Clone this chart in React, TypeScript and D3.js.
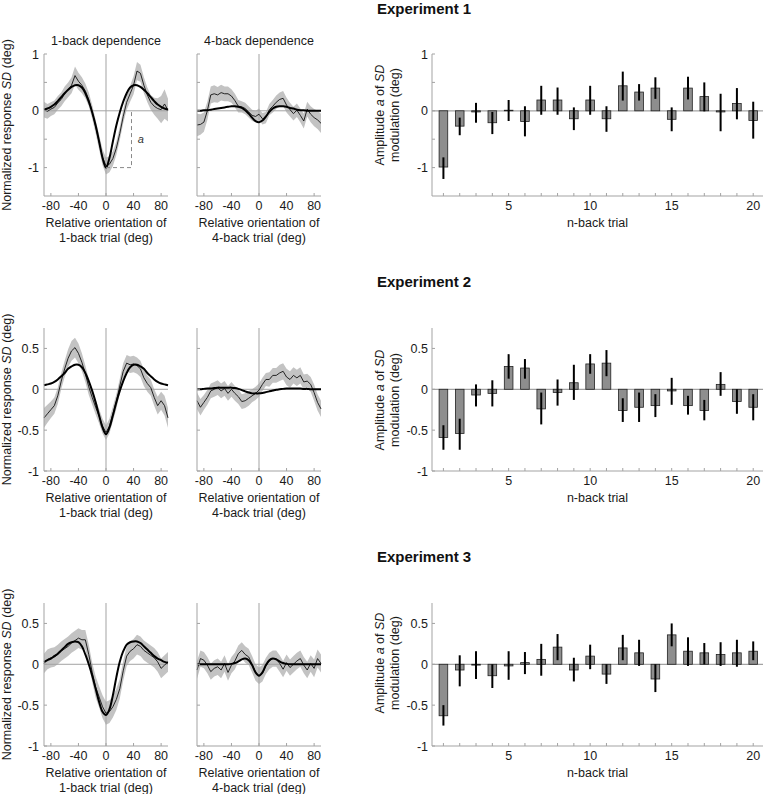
import React from 'react';
import * as d3 from 'd3';

// ---------- data ----------
const ORIENT = [-90,-85,-80,-75,-70,-65,-60,-55,-50,-45,-40,-35,-30,-25,-20,-15,-10,-5,0,5,10,15,20,25,30,35,40,45,50,55,60,65,70,75,80,85,90];

const E1_1B_MEAN = [0.02,-0.01,0.03,0.06,0.14,0.2,0.3,0.37,0.45, 0.62,0.52,0.45,0.35,0.2,-0.02,-0.28,-0.55,-0.82,-0.97, -0.94,-0.84,-0.66,-0.4,-0.1,0.15,0.3,0.45,0.7,0.66, 0.45,0.28,0.15,0.08,0.04,0.02,0.12,0.01];
const E1_1B_SEM = [0.14,0.13,0.12,0.12,0.12,0.12,0.13,0.13,0.14, 0.16,0.15,0.14,0.13,0.12,0.12,0.12,0.13,0.14,0.15, 0.14,0.13,0.12,0.12,0.12,0.13,0.14,0.16,0.16,0.15, 0.14,0.13,0.13,0.15,0.18,0.24,0.26,0.2];
const E1_1B_FIT = [0.02,0.04,0.07,0.11,0.17,0.24,0.31,0.37,0.42, 0.45,0.45,0.41,0.31,0.16,-0.03,-0.26,-0.54,-0.83,-1.0, -0.83,-0.54,-0.26,-0.03,0.16,0.31,0.41,0.45,0.45,0.42, 0.37,0.31,0.24,0.17,0.11,0.07,0.04,0.02];

const E1_4B_MEAN = [-0.25,-0.24,-0.2,0.0,0.28,0.3,0.28,0.32,0.3, 0.3,0.26,0.18,0.08,0.07,0.04,-0.02,-0.08,-0.1,-0.06, -0.14,-0.12,0.02,0.08,0.15,0.2,0.22,0.1,0.02,-0.05, 0.01,-0.08,-0.18,0.03,-0.06,-0.12,-0.16,-0.22];
const E1_4B_SEM = [0.2,0.18,0.17,0.16,0.15,0.15,0.14,0.14,0.13, 0.13,0.12,0.12,0.11,0.1,0.1,0.1,0.1,0.1,0.1, 0.1,0.1,0.1,0.11,0.12,0.12,0.13,0.13,0.12,0.12, 0.12,0.12,0.13,0.13,0.14,0.15,0.16,0.17];
const E1_4B_FIT = [0,0,0.01,0.01,0.02,0.03,0.04,0.05,0.06, 0.07,0.08,0.08,0.07,0.05,0.01,-0.05,-0.12,-0.18,-0.2, -0.17,-0.1,-0.02,0.04,0.07,0.08,0.08,0.07,0.05,0.04, 0.02,0.01,0.01,0,0,0,0,0];

const E2_1B_MEAN = [-0.35,-0.3,-0.25,-0.2,-0.08,0.1,0.25,0.38,0.47, 0.51,0.44,0.33,0.19,0.03,-0.1,-0.22,-0.33,-0.45,-0.53, -0.45,-0.3,-0.15,0.04,0.22,0.32,0.3,0.31,0.29,0.25, 0.14,0.07,0.02,-0.1,-0.2,-0.14,-0.2,-0.35];
const E2_1B_SEM = [0.12,0.11,0.1,0.1,0.1,0.1,0.1,0.11,0.12, 0.12,0.12,0.11,0.1,0.1,0.09,0.09,0.09,0.09,0.09, 0.09,0.09,0.09,0.09,0.1,0.1,0.1,0.1,0.1,0.1, 0.1,0.1,0.1,0.1,0.11,0.11,0.12,0.12];
const E2_1B_FIT = [0.05,0.06,0.07,0.09,0.12,0.16,0.2,0.25,0.28, 0.3,0.3,0.27,0.2,0.1,-0.02,-0.16,-0.32,-0.47,-0.55, -0.47,-0.32,-0.16,-0.02,0.1,0.2,0.27,0.3,0.3,0.28, 0.25,0.2,0.16,0.12,0.09,0.07,0.06,0.05];

const E2_4B_MEAN = [-0.14,-0.22,-0.16,-0.1,-0.02,0.0,0.02,-0.02,0.01, -0.05,0.0,-0.05,-0.09,-0.15,-0.14,-0.11,-0.08,-0.05,-0.01, 0.06,0.12,0.12,0.17,0.17,0.2,0.22,0.15,0.12,0.17, 0.14,0.17,0.09,0.1,0.06,-0.04,-0.16,-0.24];
const E2_4B_SEM = [0.1,0.1,0.09,0.09,0.09,0.09,0.09,0.09,0.09, 0.09,0.09,0.09,0.09,0.09,0.09,0.09,0.08,0.08,0.08, 0.08,0.08,0.09,0.09,0.09,0.1,0.1,0.1,0.1,0.1, 0.1,0.1,0.09,0.09,0.09,0.1,0.1,0.1];
const E2_4B_FIT = [0,0,0.005,0.01,0.01,0.015,0.02,0.02,0.02, 0.02,0.02,0.015,0.005,-0.01,-0.025,-0.04,-0.05,-0.05,-0.05, -0.045,-0.035,-0.025,-0.015,-0.005,0,0.005,0.01,0.01,0.01, 0.01,0.01,0.005,0.005,0,0,0,0];

const E3_1B_MEAN = [0.01,0.06,0.08,0.09,0.12,0.16,0.19,0.22,0.26, 0.29,0.32,0.3,0.3,0.12,-0.1,-0.28,-0.4,-0.52,-0.6, -0.58,-0.52,-0.43,-0.3,-0.08,0.1,0.16,0.19,0.24,0.22, 0.17,0.14,0.11,0.08,0.03,-0.05,-0.01,0.03];
const E3_1B_SEM = [0.12,0.12,0.12,0.12,0.12,0.12,0.12,0.12,0.12, 0.12,0.12,0.12,0.12,0.12,0.12,0.13,0.13,0.14,0.14, 0.14,0.13,0.13,0.12,0.12,0.12,0.12,0.12,0.12,0.12, 0.12,0.12,0.12,0.12,0.12,0.12,0.12,0.12];
const E3_1B_FIT = [0.03,0.05,0.07,0.1,0.13,0.17,0.21,0.25,0.27, 0.28,0.27,0.22,0.12,0.0,-0.14,-0.3,-0.46,-0.58,-0.62, -0.55,-0.38,-0.16,0.03,0.16,0.24,0.27,0.28,0.28,0.26, 0.22,0.18,0.14,0.1,0.07,0.05,0.03,0.02];

const E3_4B_MEAN = [-0.07,0.07,0.05,-0.01,-0.09,-0.05,-0.03,-0.07,0.01, -0.1,-0.01,0.04,0.13,0.17,0.12,0.09,0.0,-0.1,-0.14, -0.11,-0.02,0.04,0.07,0.07,0.01,-0.06,0.02,-0.04,0.0, 0.04,0.07,-0.01,-0.07,0.01,-0.05,0.07,0.01];
const E3_4B_SEM = [0.11,0.1,0.1,0.1,0.1,0.1,0.1,0.1,0.1, 0.1,0.1,0.1,0.1,0.1,0.1,0.1,0.1,0.1,0.1, 0.1,0.1,0.1,0.1,0.1,0.1,0.1,0.1,0.1,0.1, 0.1,0.1,0.1,0.1,0.1,0.11,0.11,0.11];
const E3_4B_FIT = [0,0,0,0,0,0,0,0,0, 0,0.005,0.015,0.035,0.06,0.07,0.05,-0.01,-0.1,-0.14, -0.1,-0.01,0.05,0.07,0.06,0.035,0.015,0.005,0,0, 0,0,0,0,0,0,0,0];

const NBACK = [1,2,3,4,5,6,7,8,9,10,11,12,13,14,15,16,17,18,19,20];
const E1_AMP = [-0.99,-0.27,-0.02,-0.21,0.01,-0.19,0.19,0.19,-0.14,0.19,-0.14,0.44,0.33,0.40,-0.15,0.40,0.25,-0.02,0.13,-0.17];
const E1_HI = [-0.82,-0.12,0.14,-0.02,0.19,0.08,0.44,0.41,0.06,0.44,0.08,0.69,0.47,0.59,0.06,0.60,0.50,0.30,0.40,0.16];
const E1_LO = [-1.2,-0.43,-0.21,-0.41,-0.18,-0.45,-0.07,-0.07,-0.34,-0.07,-0.37,0.18,0.18,0.21,-0.36,0.20,-0.01,-0.36,-0.15,-0.49];
const E2_AMP = [-0.59,-0.54,-0.07,-0.05,0.28,0.26,-0.24,-0.04,0.08,0.31,0.32,-0.26,-0.22,-0.20,-0.02,-0.20,-0.26,0.06,-0.15,-0.22];
const E2_HI = [-0.44,-0.36,0.06,0.11,0.43,0.37,-0.04,0.12,0.30,0.43,0.48,-0.11,-0.04,-0.06,0.14,-0.08,-0.13,0.21,0.0,-0.06];
const E2_LO = [-0.74,-0.74,-0.21,-0.21,0.13,0.13,-0.43,-0.20,-0.13,0.19,0.16,-0.40,-0.40,-0.34,-0.19,-0.31,-0.38,-0.08,-0.30,-0.38];
const E3_AMP = [-0.63,-0.07,-0.01,-0.14,-0.02,0.02,0.06,0.21,-0.07,0.10,-0.12,0.20,0.14,-0.18,0.36,0.16,0.14,0.12,0.14,0.16];
const E3_HI = [-0.5,0.11,0.16,0.0,0.16,0.15,0.25,0.37,0.08,0.24,0.0,0.36,0.30,0.0,0.50,0.33,0.26,0.27,0.30,0.28];
const E3_LO = [-0.75,-0.27,-0.18,-0.29,-0.19,-0.12,-0.14,0.05,-0.21,-0.06,-0.24,0.05,-0.02,-0.34,0.22,-0.02,0.0,-0.02,-0.03,0.05];

const X_TICKS = [-80, -40, 0, 40, 80];
const BAR_X_LABELS = [5, 10, 15, 20];
const TITLES = ['Experiment 1', 'Experiment 2', 'Experiment 3'];
const PANEL_TITLES = ['1-back dependence', '4-back dependence'];

// ---------- styling / layout ----------
const FONT = "'Liberation Sans', Arial, Helvetica, sans-serif";
const AX = '#a3a3a3';
const TXT = '#1a1a1a';
const FS = 12.5;
const P1 = [44, 168];
const P2 = [197, 321];
const PB = [432, 763];

type Row = {
  top: number; bot: number; dom: [number, number];
  yTicks: number[]; yLabels: number[];
  title: string; titleY: number; barLabelCy: number;
  p1: { mean: number[]; sem: number[]; fit: number[] };
  p2: { mean: number[]; sem: number[]; fit: number[] };
  bar: { amp: number[]; lo: number[]; hi: number[] };
  showPanelTitles: boolean; annot: boolean;
};

const ROWS: Row[] = [
  { top: 54, bot: 196, dom: [-1.5, 1], yTicks: [1, 0.5, 0, -0.5, -1], yLabels: [1, 0, -1],
    title: TITLES[0], titleY: 14, barLabelCy: 115,
    p1: { mean: E1_1B_MEAN, sem: E1_1B_SEM, fit: E1_1B_FIT },
    p2: { mean: E1_4B_MEAN, sem: E1_4B_SEM, fit: E1_4B_FIT },
    bar: { amp: E1_AMP, lo: E1_LO, hi: E1_HI }, showPanelTitles: true, annot: true },
  { top: 328, bot: 471, dom: [-1, 0.75], yTicks: [0.5, 0, -0.5, -1], yLabels: [0.5, 0, -0.5, -1],
    title: TITLES[1], titleY: 287, barLabelCy: 400,
    p1: { mean: E2_1B_MEAN, sem: E2_1B_SEM, fit: E2_1B_FIT },
    p2: { mean: E2_4B_MEAN, sem: E2_4B_SEM, fit: E2_4B_FIT },
    bar: { amp: E2_AMP, lo: E2_LO, hi: E2_HI }, showPanelTitles: false, annot: false },
  { top: 603, bot: 746, dom: [-1, 0.75], yTicks: [0.5, 0, -0.5, -1], yLabels: [0.5, 0, -0.5, -1],
    title: TITLES[2], titleY: 562, barLabelCy: 663,
    p1: { mean: E3_1B_MEAN, sem: E3_1B_SEM, fit: E3_1B_FIT },
    p2: { mean: E3_4B_MEAN, sem: E3_4B_SEM, fit: E3_4B_FIT },
    bar: { amp: E3_AMP, lo: E3_LO, hi: E3_HI }, showPanelTitles: false, annot: false },
];

function LinePanel({ row, range, data, showYLabels, title, nback, annot }: any) {
  const x = d3.scaleLinear().domain([-90, 90]).range(range);
  const y = d3.scaleLinear().domain(row.dom).range([row.bot, row.top]);
  const { mean, sem, fit } = data;
  const area = d3.area<number>()
    .x((_, i) => x(ORIENT[i]))
    .y0((_, i) => y(mean[i] - sem[i]))
    .y1((_, i) => y(mean[i] + sem[i]));
  const line = d3.line<number>().x((_, i) => x(ORIENT[i])).y((d) => y(d));
  const fitLine = d3.line<number>().x((_, i) => x(ORIENT[i])).y((d) => y(d)).curve(d3.curveCatmullRom.alpha(0.5));
  const cx = (range[0] + range[1]) / 2;
  return (
    <g>
      <path d={area(mean) || ''} fill="#c3c3c3" stroke="none" />
      <line x1={range[0]} x2={range[1]} y1={y(0)} y2={y(0)} stroke={AX} strokeWidth={1} />
      <line x1={x(0)} x2={x(0)} y1={row.top} y2={row.bot} stroke={AX} strokeWidth={1} />
      <path d={line(mean) || ''} fill="none" stroke="#111" strokeWidth={0.9} />
      <path d={fitLine(fit) || ''} fill="none" stroke="#000" strokeWidth={2} />
      {annot && (
        <g>
          <path d={`M${x(0)},${y(-1)}H${x(37)}V${y(0)}`} fill="none" stroke="#888" strokeWidth={1} strokeDasharray="4,3" />
          <text x={x(46)} y={y(-0.5)} fontSize={11} fontStyle="italic" fill="#333" dominantBaseline="central">a</text>
        </g>
      )}
      {/* axes */}
      <line x1={range[0]} x2={range[0]} y1={row.top} y2={row.bot} stroke={AX} strokeWidth={1} />
      <line x1={range[0]} x2={range[1]} y1={row.bot} y2={row.bot} stroke={AX} strokeWidth={1} />
      {row.yTicks.map((t: number) => (
        <line key={'yt' + t} x1={range[0]} x2={range[0] + 3} y1={y(t)} y2={y(t)} stroke={AX} />
      ))}
      {X_TICKS.map((t) => (
        <line key={'xt' + t} x1={x(t)} x2={x(t)} y1={row.bot} y2={row.bot - 3} stroke={AX} />
      ))}
      {showYLabels && row.yLabels.map((t: number) => (
        <text key={'yl' + t} x={range[0] - 5} y={y(t) + 4.5} textAnchor="end" fontSize={FS} fill={TXT}>{String(t)}</text>
      ))}
      {X_TICKS.map((t) => (
        <text key={'xl' + t} x={x(t)} y={row.bot + 13.5} textAnchor="middle" fontSize={FS} fill={TXT}>{String(t)}</text>
      ))}
      <text x={cx} y={row.bot + 30.5} textAnchor="middle" fontSize={FS} fill={TXT}>Relative orientation of</text>
      <text x={cx} y={row.bot + 45.5} textAnchor="middle" fontSize={FS} fill={TXT}>{nback}-back trial (deg)</text>
      {title && (
        <text x={cx} y={45} textAnchor="middle" fontSize={FS} fill={TXT}>{title}</text>
      )}
    </g>
  );
}

function BarPanel({ row }: any) {
  const x = d3.scaleLinear().domain([0.3, 20.6]).range(PB);
  const y = d3.scaleLinear().domain(row.dom).range([row.bot, row.top]);
  const bw = x(1.53) - x(1);
  const { amp, lo, hi } = row.bar;
  return (
    <g>
      <line x1={PB[0]} x2={PB[1]} y1={y(0)} y2={y(0)} stroke={AX} strokeWidth={1.2} />
      {NBACK.map((n, i) => (
        <rect key={'b' + n} x={x(n) - bw / 2} y={Math.min(y(0), y(amp[i]))} width={bw}
          height={Math.abs(y(amp[i]) - y(0))} fill="#8e8e8e" stroke="#222" strokeWidth={0.8} />
      ))}
      {NBACK.map((n, i) => (
        <line key={'e' + n} x1={x(n)} x2={x(n)} y1={y(lo[i])} y2={y(hi[i])} stroke="#000" strokeWidth={2} />
      ))}
      <line x1={PB[0]} x2={PB[0]} y1={row.top} y2={row.bot} stroke={AX} />
      <line x1={PB[0]} x2={PB[1]} y1={row.bot} y2={row.bot} stroke={AX} />
      {row.yTicks.map((t: number) => (
        <line key={'yt' + t} x1={PB[0]} x2={PB[0] + 3} y1={y(t)} y2={y(t)} stroke={AX} />
      ))}
      {NBACK.map((n) => (
        <line key={'xt' + n} x1={x(n)} x2={x(n)} y1={row.bot} y2={row.bot - 3} stroke={AX} />
      ))}
      {row.yLabels.map((t: number) => (
        <text key={'yl' + t} x={PB[0] - 4} y={y(t) + 4.5} textAnchor="end" fontSize={FS} fill={TXT}>{String(t)}</text>
      ))}
      {BAR_X_LABELS.map((t) => (
        <text key={'xl' + t} x={x(t)} y={row.bot + 13.5} textAnchor="middle" fontSize={FS} fill={TXT}>{String(t)}</text>
      ))}
      <text x={(PB[0] + PB[1]) / 2} y={row.bot + 30.5} textAnchor="middle" fontSize={FS} fill={TXT}>n-back trial</text>
      <text transform={`translate(380,${row.barLabelCy}) rotate(-90)`} textAnchor="middle" dominantBaseline="central" fontSize={FS} fill={TXT}>
        Amplitude <tspan fontStyle="italic">a</tspan> of <tspan fontStyle="italic">SD</tspan>
      </text>
      <text transform={`translate(395,${row.barLabelCy}) rotate(-90)`} textAnchor="middle" dominantBaseline="central" fontSize={FS} fill={TXT}>
        modulation (deg)
      </text>
      <text x={377} y={row.titleY} fontSize={15} fontWeight="bold" fill="#111">{row.title}</text>
    </g>
  );
}

export default function App() {
  return (
    <svg width={769} height={794} style={{ position: 'absolute', left: 0, top: 0, background: '#fff' }}
      fontFamily={FONT}>
      <rect x={0} y={0} width={769} height={794} fill="#fff" />
      {ROWS.map((row, r) => (
        <g key={'row' + r}>
          <LinePanel row={row} range={P1} data={row.p1} showYLabels={true}
            title={row.showPanelTitles ? PANEL_TITLES[0] : null} nback={1} annot={row.annot} />
          <LinePanel row={row} range={P2} data={row.p2} showYLabels={false}
            title={row.showPanelTitles ? PANEL_TITLES[1] : null} nback={4} annot={false} />
          <text transform={`translate(7,${(row.top + row.bot) / 2}) rotate(-90)`} textAnchor="middle"
            dominantBaseline="central" fontSize={FS} fill={TXT}>
            Normalized response <tspan fontStyle="italic">SD</tspan> (deg)
          </text>
          <BarPanel row={row} />
        </g>
      ))}
    </svg>
  );
}
